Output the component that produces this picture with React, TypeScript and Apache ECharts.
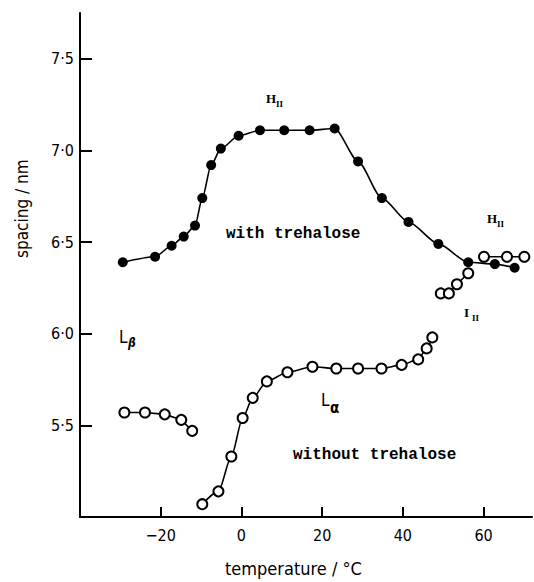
import React, { useEffect, useRef } from "react";
import * as echarts from "echarts";

// with trehalose (filled circles)
const withTemp = [-29.4, -21.4, -17.3, -14.3, -11.5, -9.7, -7.5, -5.1, -0.7, 4.6, 10.6, 16.9, 23.1, 28.9, 34.8, 41.4, 48.8, 56.2, 62.8, 67.7];
const withSpacing = [6.39, 6.42, 6.48, 6.53, 6.59, 6.74, 6.92, 7.01, 7.08, 7.11, 7.11, 7.11, 7.12, 6.94, 6.74, 6.61, 6.49, 6.39, 6.38, 6.36];

// with trehalose, open circles: I_II phase
const iiTemp = [49.4, 51.4, 53.4, 56.2];
const iiSpacing = [6.22, 6.22, 6.27, 6.33];

// with trehalose, open circles: H_II phase
const hiiTemp = [60.1, 65.8, 70.1];
const hiiSpacing = [6.42, 6.42, 6.42];

// without trehalose: L_beta
const lbTemp = [-29.0, -23.9, -19.0, -14.9, -12.2];
const lbSpacing = [5.57, 5.57, 5.56, 5.53, 5.47];

// without trehalose: L_alpha
const laTemp = [-9.7, -5.7, -2.5, 0.3, 2.8, 6.3, 11.4, 17.6, 23.5, 28.9, 34.7, 39.7, 43.8, 45.9, 47.3];
const laSpacing = [5.07, 5.14, 5.33, 5.54, 5.65, 5.74, 5.79, 5.82, 5.81, 5.81, 5.81, 5.83, 5.86, 5.92, 5.98];

const xTicks = [-20, 0, 20, 40, 60];
const yTicks = [5.5, 6.0, 6.5, 7.0, 7.5];

const zip = (a: number[], b: number[]) => a.map((v, i) => [v, b[i]]);

const SANS = "'DejaVu Sans Condensed', 'Liberation Sans Narrow', 'DejaVu Sans', sans-serif";
const MONO = "'Liberation Mono', 'DejaVu Sans Mono', monospace";
const SERIF = "'Liberation Serif', 'DejaVu Serif', serif";

export default function App() {
  const ref = useRef<HTMLDivElement>(null);
  useEffect(() => {
    if (!ref.current) return;
    const chart = echarts.init(ref.current, null, { renderer: "svg" });
    const filled = { symbol: "circle", symbolSize: 10, itemStyle: { color: "#000" } };
    const open = {
      symbol: "circle",
      symbolSize: 10,
      itemStyle: { color: "#fff", borderColor: "#000", borderWidth: 2 },
    };
    const line = { color: "#000", width: 1.6 };
    const txt = (x: number, y: number, text: string, font: string) => ({
      type: "text",
      left: x,
      top: y,
      style: { text, font, fill: "#000" },
    });
    chart.setOption({
      animation: false,
      backgroundColor: "#fff",
      grid: { left: 80, right: 2, top: 13, bottom: 65 },
      xAxis: {
        type: "value",
        min: -40,
        max: 72,
        axisLine: { onZero: false, lineStyle: { color: "#000", width: 2 } },
        axisTick: { inside: true, length: 10, lineStyle: { color: "#000", width: 2 }, customValues: xTicks },
        axisLabel: {
          customValues: xTicks,
          color: "#000",
          fontFamily: SANS,
          fontSize: 16,
          margin: 10,
          formatter: (v: number) => (v < 0 ? "\u2212" + Math.abs(v) : String(v)),
        },
        splitLine: { show: false },
      },
      yAxis: {
        type: "value",
        min: 5.0,
        max: 7.75,
        axisLine: { show: true, onZero: false, lineStyle: { color: "#000", width: 2 } },
        axisTick: { show: true, inside: true, length: 12, lineStyle: { color: "#000", width: 2 }, customValues: yTicks },
        axisLabel: {
          customValues: yTicks,
          color: "#000",
          fontFamily: SANS,
          fontSize: 16,
          margin: 6,
          formatter: (v: number) => v.toFixed(1).replace(".", "\u00b7"),
        },
        splitLine: { show: false },
      },
      series: [
        { type: "line", data: zip(withTemp, withSpacing), smooth: 0.25, smoothMonotone: "x", lineStyle: line, ...filled, z: 3 },
        { type: "line", data: zip(iiTemp, iiSpacing), lineStyle: line, ...open, z: 2 },
        { type: "line", data: zip(hiiTemp, hiiSpacing), lineStyle: line, ...open, z: 2 },
        { type: "line", data: zip(lbTemp, lbSpacing), lineStyle: line, ...open },
        { type: "line", data: zip(laTemp, laSpacing), smooth: 0.25, smoothMonotone: "x", lineStyle: line, ...open },
      ],
      graphic: [
        { type: "text", x: 13, y: 258, rotation: Math.PI / 2, style: { text: "spacing / nm", font: `17px ${SANS}`, fill: "#000" } },
        txt(225, 559, "temperature / \u00b0C", `18px ${SANS}`),
        txt(226, 226, "with trehalose", `bold 16px ${MONO}`),
        txt(293, 447, "without trehalose", `bold 16px ${MONO}`),
        txt(266, 92, "H", `bold 13px ${SERIF}`),
        txt(276, 99, "II", `bold 9px ${SERIF}`),
        txt(487, 212, "H", `bold 13px ${SERIF}`),
        txt(497, 219, "II", `bold 9px ${SERIF}`),
        txt(464, 306, "I", `bold 13px ${SERIF}`),
        txt(472, 313, "II", `bold 9px ${SERIF}`),
        txt(119, 328, "L", `17px ${SANS}`),
        txt(128, 337, "\u03b2", `italic bold 12px ${SANS}`),
        txt(321, 391, "L", `17px ${SANS}`),
        txt(330, 400, "\u03b1", `bold 15px ${SANS}`),
      ],
    });
    return () => chart.dispose();
  }, []);
  return <div ref={ref} style={{ width: 534, height: 582, position: "absolute", left: 0, top: 0 }} />;
}
